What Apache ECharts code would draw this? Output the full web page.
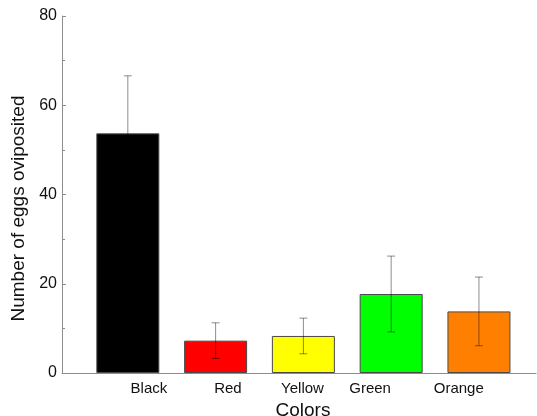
<!DOCTYPE html>
<html>
<head>
<meta charset="utf-8">
<script src="https://cdn.jsdelivr.net/npm/echarts@6/dist/echarts.min.js"></script>
<style>html,body{margin:0;padding:0;background:#fff}#c{width:537px;height:416px}</style>
</head>
<body>
<div id="c"></div>
<script>
var categories = ['Black', 'Red', 'Yellow', 'Green', 'Orange'];
var positions = [1, 2, 3, 4, 5];
var means = [53.7, 7.25, 8.3, 17.7, 13.8];
var errors = [12.9, 4.0, 4.0, 8.5, 7.7];
var barColors = ['#000000', '#ff0000', '#ffff00', '#00ff00', '#ff8000'];
var labelPositions = [1.24, 2.14, 2.99, 3.76, 4.77];
var yTicks = [0, 20, 40, 60, 80];

var chart = echarts.init(document.getElementById('c'));
var font = 'Liberation Sans, Arial, sans-serif';

var barData = positions.map(function (p, i) {
  return { value: [p, means[i]], itemStyle: { color: barColors[i] } };
});
var errData = positions.map(function (p, i) {
  return [p, means[i] - errors[i], means[i] + errors[i]];
});

chart.setOption({
  animation: false,
  grid: { left: 62, right: 1, top: 16, bottom: 43, outerBoundsMode: 'none', containLabel: false },
  xAxis: {
    type: 'value',
    min: 0.25,
    max: 5.65,
    name: 'Colors',
    nameLocation: 'middle',
    nameGap: 23,
    nameTextStyle: { fontFamily: font, fontSize: 19, color: '#111', padding: [0, 0, 0, 8] },
    axisLine: { show: true, lineStyle: { color: '#8c8c8c', width: 1 } },
    axisTick: { show: false },
    splitLine: { show: false },
    axisLabel: {
      customValues: labelPositions,
      margin: 8,
      fontFamily: font,
      fontSize: 15,
      color: '#111',
      formatter: function (v) {
        for (var i = 0; i < labelPositions.length; i++) {
          if (Math.abs(labelPositions[i] - v) < 1e-6) return categories[i];
        }
        return '';
      }
    }
  },
  yAxis: {
    type: 'value',
    min: 0,
    max: 80,
    interval: 20,
    name: 'Number of eggs oviposited',
    nameLocation: 'middle',
    nameGap: 32,
    nameTextStyle: { fontFamily: font, fontSize: 19, color: '#111', padding: [0, 28, 0, 0] },
    axisLine: { show: true, lineStyle: { color: '#8c8c8c', width: 1 } },
    axisTick: { show: true, inside: true, length: 4, lineStyle: { color: '#8c8c8c' } },
    minorTick: { show: true, splitNumber: 2, length: 3, lineStyle: { color: '#8c8c8c' } },
    splitLine: { show: false },
    axisLabel: { margin: 5, fontFamily: font, fontSize: 16, color: '#111',
      formatter: function (v) { return yTicks.indexOf(v) >= 0 ? String(v) : ''; } }
  },
  series: [
    {
      type: 'bar',
      data: barData,
      barWidth: 63,
      itemStyle: { borderColor: '#4a4a4a', borderWidth: 1 }
    },
    {
      type: 'custom',
      data: errData,
      z: 5,
      renderItem: function (params, api) {
        var x = api.value(0);
        var lo = api.coord([x, api.value(1)]);
        var hi = api.coord([x, api.value(2)]);
        var cap = 4;
        var style = { stroke: 'rgba(0,0,0,0.45)', lineWidth: 1 };
        return {
          type: 'group',
          children: [
            { type: 'line', shape: { x1: hi[0], y1: hi[1], x2: lo[0], y2: lo[1] }, style: style },
            { type: 'line', shape: { x1: hi[0] - cap, y1: hi[1], x2: hi[0] + cap, y2: hi[1] }, style: style },
            { type: 'line', shape: { x1: lo[0] - cap, y1: lo[1], x2: lo[0] + cap, y2: lo[1] }, style: style }
          ]
        };
      }
    }
  ]
});
</script>
</body>
</html>
